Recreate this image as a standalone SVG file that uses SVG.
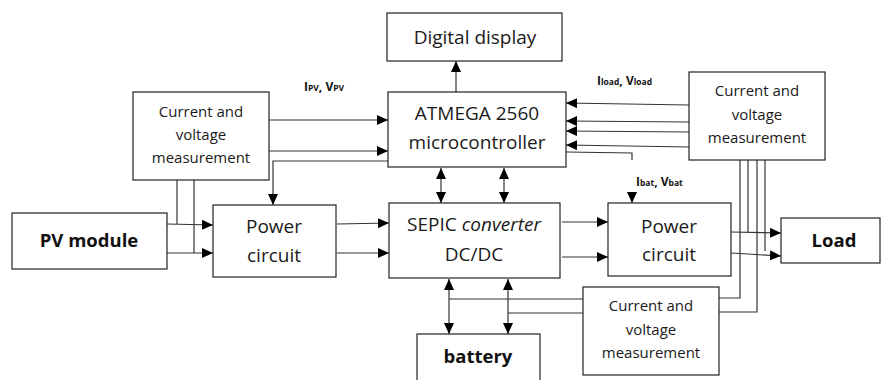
<svg xmlns="http://www.w3.org/2000/svg" width="882" height="380" viewBox="0 0 882 380">
<style>
.box{fill:#fff;stroke:#222;stroke-width:1.2}
.t{font-family:"Open Sans","Noto Sans",sans-serif;font-size:19px;fill:#1a1a1a;text-anchor:middle}
.m{font-family:"Open Sans","Noto Sans",sans-serif;font-size:15px;fill:#1a1a1a;text-anchor:middle}
.b{font-family:"Open Sans","Noto Sans",sans-serif;font-size:18.5px;font-weight:bold;fill:#111;text-anchor:middle}
.lbl{font-family:"Open Sans","Noto Sans",sans-serif;font-size:12px;font-weight:bold;fill:#111}
.s{font-size:8.5px}
.c{fill:none;stroke:#333;stroke-width:1.2}
.a{marker-end:url(#ah)}
.d{marker-end:url(#ah);marker-start:url(#ah)}
</style>
<defs>
<marker id="ah" markerUnits="userSpaceOnUse" markerWidth="12" markerHeight="11" refX="11" refY="5" orient="auto-start-reverse">
<path d="M0,0 L11,5 L0,10 z" fill="#000"/>
</marker>
</defs>

<g id="connectors">
<line class="c a" x1="456" y1="92" x2="456" y2="61"/>
<line class="c a" x1="269" y1="120" x2="388" y2="120"/>
<line class="c a" x1="269" y1="151" x2="388" y2="151"/>
<polyline class="c a" points="388,161 273,161 273,205"/>
<polyline class="c" points="177,180 177,224"/>
<polyline class="c" points="194,180 194,253"/>
<line class="c a" x1="167" y1="224" x2="213" y2="225"/>
<line class="c a" x1="167" y1="253" x2="213" y2="253"/>
<line class="c a" x1="337" y1="224" x2="389" y2="223"/>
<line class="c a" x1="337" y1="253" x2="389" y2="253"/>
<line class="c d" x1="441" y1="168" x2="441" y2="203"/>
<line class="c d" x1="504" y1="168" x2="504" y2="203"/>
<line class="c d" x1="449" y1="279" x2="449" y2="334"/>
<line class="c d" x1="508" y1="279" x2="508" y2="334"/>
<line class="c" x1="449" y1="299" x2="583" y2="299"/>
<line class="c" x1="508" y1="313" x2="583" y2="313"/>
<line class="c a" x1="562" y1="222" x2="608" y2="222"/>
<line class="c a" x1="562" y1="257" x2="608" y2="257"/>
<line class="c a" x1="689" y1="105" x2="566" y2="103"/>
<line class="c a" x1="689" y1="122" x2="566" y2="121"/>
<line class="c a" x1="689" y1="132" x2="566" y2="131"/>
<line class="c a" x1="689" y1="147" x2="566" y2="145"/>
<polyline class="c" points="566,152 632,153 632,160"/>
<line class="c a" x1="632" y1="193" x2="632" y2="203"/>
<polyline class="c" points="740,160 740,298 719,298"/>
<polyline class="c" points="748,160 748,232"/>
<polyline class="c" points="757,160 757,312 719,312"/>
<polyline class="c" points="765,160 765,251"/>
<line class="c a" x1="731" y1="232" x2="781" y2="233"/>
<line class="c a" x1="731" y1="253" x2="781" y2="256"/>
</g>

<g id="digital-display">
<rect class="box" x="387" y="13" width="175" height="48"/>
<text class="t" x="475" y="44">Digital display</text>
</g>

<g id="atmega">
<rect class="box" x="388" y="92" width="178" height="75"/>
<text class="t" x="477" y="120">ATMEGA 2560</text>
<text class="t" x="477" y="149">microcontroller</text>
</g>

<g id="meas-left">
<rect class="box" x="133" y="92" width="136" height="88"/>
<text class="m" x="201" y="117">Current and</text>
<text class="m" x="201" y="140">voltage</text>
<text class="m" x="201" y="163">measurement</text>
</g>

<g id="meas-right">
<rect class="box" x="689" y="72" width="136" height="88"/>
<text class="m" x="757" y="96">Current and</text>
<text class="m" x="757" y="120">voltage</text>
<text class="m" x="757" y="143">measurement</text>
</g>

<g id="meas-bottom">
<rect class="box" x="583" y="287" width="136" height="88"/>
<text class="m" x="651" y="311">Current and</text>
<text class="m" x="651" y="335">voltage</text>
<text class="m" x="651" y="358">measurement</text>
</g>

<g id="pv-module">
<rect class="box" x="12" y="213" width="155" height="56"/>
<text class="b" x="89" y="247">PV module</text>
</g>

<g id="power-left">
<rect class="box" x="213" y="205" width="123" height="72"/>
<text class="t" x="274" y="233">Power</text>
<text class="t" x="274" y="262">circuit</text>
</g>

<g id="sepic">
<rect class="box" x="389" y="203" width="171" height="75"/>
<text class="t" x="474" y="231">SEPIC <tspan font-style="italic">converter</tspan></text>
<text class="t" x="474" y="261">DC/DC</text>
</g>

<g id="power-right">
<rect class="box" x="608" y="203" width="123" height="73"/>
<text class="t" x="669" y="233">Power</text>
<text class="t" x="669" y="261">circuit</text>
</g>

<g id="load">
<rect class="box" x="781" y="218" width="99" height="45"/>
<text class="b" x="834" y="247">Load</text>
</g>

<g id="battery">
<rect class="box" x="417" y="334" width="123" height="52"/>
<text class="b" x="478" y="363">battery</text>
</g>

<g id="labels">
<text class="lbl" x="304" y="91">I<tspan class="s">PV</tspan>, V<tspan class="s">PV</tspan></text>
<text class="lbl" x="597" y="85">I<tspan class="s">load</tspan>, V<tspan class="s">load</tspan></text>
<text class="lbl" x="636" y="186">I<tspan class="s">bat</tspan>, V<tspan class="s">bat</tspan></text>
</g>
</svg>
